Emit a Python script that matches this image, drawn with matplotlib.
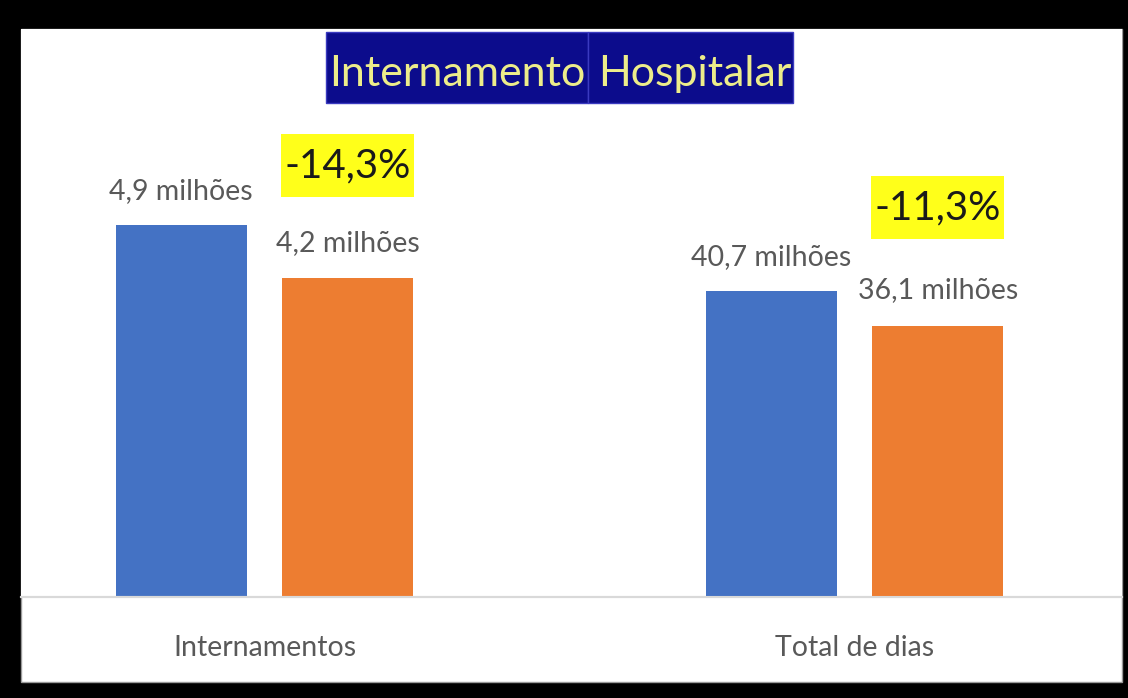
import matplotlib.pyplot as plt
from matplotlib.patches import Rectangle
from matplotlib.path import Path

# Internamento hospitalar: antes vs depois
categories = ["Internamentos", "Total de dias"]
antes = [4.9, 40.7]
depois = [4.2, 36.1]
labels_antes = ["4,9 milhões", "40,7 milhões"]
labels_depois = ["4,2 milhões", "36,1 milhões"]
variacao = ["-14,3%", "-11,3%"]
titulo = ["Internamento", "Hospitalar"]

BLUE = "#4472C4"
ORANGE = "#ED7D31"
GREY = "#595959"

plt.rcParams["font.family"] = ["Lato", "DejaVu Sans"]


def tall_box(x0, y0, width, height, mutation_size):
    # narrow on the sides, roomy above and below, like the highlight boxes
    px, py = 0.08 * mutation_size, 0.32 * mutation_size
    x0, x1 = x0 - px, x0 + width + px
    y0, y1 = y0 - py, y0 + height + py
    return Path([(x0, y0), (x1, y0), (x1, y1), (x0, y1), (x0, y0)], closed=True)


W, H = 1128, 698
fig = plt.figure(figsize=(W / 100, H / 100), dpi=100, facecolor="black")

# white panel inside the black frame
fig.patches.append(Rectangle((21 / W, 1 - 682 / H), (1122 - 21) / W, (682 - 29) / H,
                             transform=fig.transFigure, facecolor="white",
                             edgecolor="#9a9a9a", lw=1, zorder=-5))

ax = fig.add_axes([21 / W, 1 - 597 / H, (1122 - 21) / W, (597 - 29) / H])
ax.set_facecolor("white")
ax2 = ax.twinx()  # second category has its own scale

width = 0.222
off = 0.141
axes_for = [ax, ax2]
for i, a in enumerate(axes_for):
    a.bar(i - off, antes[i], width, color=BLUE)
    a.bar(i + off, depois[i], width, color=ORANGE)
    a.annotate(labels_antes[i], (i - off, antes[i]), xytext=(0, 18.5),
               textcoords="offset points", ha="center", va="baseline",
               fontsize=20.5, color=GREY)
    a.annotate(labels_depois[i], (i + off, depois[i]), xytext=(0, 19.5),
               textcoords="offset points", ha="center", va="baseline",
               fontsize=20.5, color=GREY)

# percentage change boxes
ax.annotate(variacao[0], (0 + off, depois[0]), xytext=(0, 81),
            textcoords="offset points", ha="center", va="center",
            fontsize=29, color="#1a1a1a",
            bbox=dict(boxstyle=tall_box, fc="#FFFF1A", ec="none"))
ax2.annotate(variacao[1], (1 + off, depois[1]), xytext=(0, 85),
             textcoords="offset points", ha="center", va="center",
             fontsize=29, color="#1a1a1a",
             bbox=dict(boxstyle=tall_box, fc="#FFFF1A", ec="none"))

ax.set_ylim(0, 7.48)
ax2.set_ylim(0, 75.55)
ax.set_xlim(-0.4127, 1.4534)

ax.set_xticks(range(len(categories)))
ax.set_xticklabels(categories, fontsize=20.5, color=GREY)
ax.tick_params(axis="x", length=0, pad=27)
ax.set_yticks([])
ax2.set_yticks([])
for a in axes_for:
    for s in ["top", "left", "right"]:
        a.spines[s].set_visible(False)
    a.spines["bottom"].set_color("#d9d9d9")
    a.spines["bottom"].set_linewidth(1.5)

# title: two navy boxes side by side
navy = "#0c0c8c"
fig.patches.append(Rectangle((326 / W, 1 - 103 / H), (588 - 326) / W, (103 - 32) / H,
                             transform=fig.transFigure, facecolor=navy,
                             edgecolor="#3a3ac0", lw=1, zorder=3))
fig.patches.append(Rectangle((588 / W, 1 - 103 / H), (793 - 588) / W, (103 - 32) / H,
                             transform=fig.transFigure, facecolor=navy,
                             edgecolor="#3a3ac0", lw=1, zorder=3))
fig.text(457 / W, 1 - 86 / H, titulo[0], ha="center", va="baseline",
         fontsize=31, color="#EDED8A", zorder=4)
fig.text(695 / W, 1 - 86 / H, titulo[1], ha="center", va="baseline",
         fontsize=31, color="#EDED8A", zorder=4)

fig.savefig("out.png", dpi=100, facecolor="black")
